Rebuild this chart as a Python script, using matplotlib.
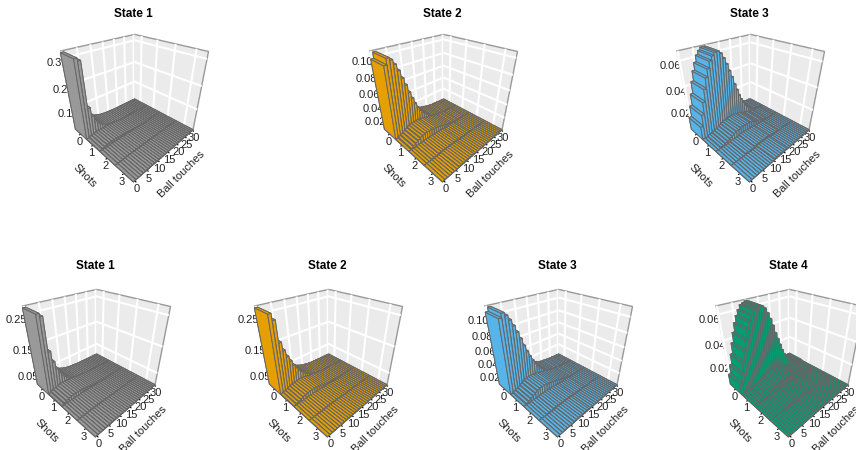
import numpy as np
import matplotlib
matplotlib.use("Agg")
import matplotlib.pyplot as plt

plt.rcParams['font.family'] = ['Liberation Sans', 'DejaVu Sans']
plt.rcParams['grid.color'] = 'white'
plt.rcParams['grid.linewidth'] = 1.5

shots = [0, 1, 2, 3]
touches = list(range(31))
touch_ticks = [0, 5, 10, 15, 20, 25, 30]

a1_s0 = [.32,.31,.13,.09,.06,.045,.035,.028,.022,.018,.014,.011,.009,.007,.006,.005,.004,.003,.003,.002,.002,.001,.001,.001,.001,.001,0,0,0,0,0]
a1_s1 = [.002,.006,.009,.011,.012,.013,.013,.012,.012,.011,.01,.009,.008,.007,.006,.005,.005,.004,.003,.003,.002,.002,.001,.001,.001,.001,0,0,0,0,0]
a1_s2 = [0,.001,.001,.002,.002,.002,.002,.002,.002,.002,.002,.002,.002,.001,.001,.001,.001,.001,.001,0,0,0,0,0,0,0,0,0,0,0,0]
a1_s3 = [0,0,0,0,.001,.001,.001,.001,.001,.001,.001,.001,0,0,0,0,0,0,0,0,0,0,0,0,0,0,0,0,0,0,0]

a2_s0 = [.098,.105,.102,.096,.088,.078,.068,.057,.047,.038,.03,.024,.019,.015,.012,.009,.007,.006,.005,.004,.003,.002,.002,.001,.001,.001,.001,0,0,0,0]
a2_s1 = [0,.002,.004,.006,.008,.01,.011,.012,.012,.012,.011,.011,.01,.009,.008,.007,.006,.005,.004,.003,.003,.002,.002,.001,.001,.001,.001,0,0,0,0]
a2_s2 = [0,0,0,.001,.001,.001,.002,.002,.002,.002,.002,.002,.002,.002,.002,.001,.001,.001,.001,.001,.001,0,0,0,0,0,0,0,0,0,0]
a2_s3 = [0,0,0,0,0,0,0,.001,.001,.001,.001,.001,.001,.001,0,0,0,0,0,0,0,0,0,0,0,0,0,0,0,0,0]

a3_s0 = [.012,.022,.032,.042,.05,.056,.061,.064,.066,.066,.064,.06,.055,.049,.043,.036,.03,.024,.019,.015,.011,.008,.006,.004,.003,.002,.002,.001,.001,.001,0]
a3_s1 = [0,0,.001,.001,.002,.003,.004,.005,.006,.007,.007,.008,.008,.008,.008,.007,.007,.006,.005,.004,.004,.003,.002,.002,.001,.001,.001,.001,0,0,0]
a3_s2 = [0,0,0,0,0,0,.001,.001,.001,.001,.002,.002,.002,.002,.002,.002,.002,.001,.001,.001,.001,.001,0,0,0,0,0,0,0,0,0]
a3_s3 = [0,0,0,0,0,0,0,0,0,0,0,.001,.001,.001,.001,.001,.001,0,0,0,0,0,0,0,0,0,0,0,0,0,0]

b1_s0 = [.27,.26,.15,.11,.08,.06,.045,.035,.028,.022,.018,.014,.011,.009,.007,.006,.005,.004,.003,.003,.002,.002,.001,.001,.001,.001,0,0,0,0,0]
b1_s1 = [.003,.008,.012,.015,.017,.018,.018,.017,.016,.015,.013,.012,.01,.009,.008,.007,.006,.005,.004,.003,.003,.002,.002,.001,.001,.001,0,0,0,0,0]
b1_s2 = [0,.001,.001,.002,.002,.003,.003,.003,.003,.003,.002,.002,.002,.002,.001,.001,.001,.001,.001,0,0,0,0,0,0,0,0,0,0,0,0]
b1_s3 = [0,0,0,0,.001,.001,.001,.001,.001,.001,.001,.001,0,0,0,0,0,0,0,0,0,0,0,0,0,0,0,0,0,0,0]

b2_s0 = [.27,.25,.18,.15,.125,.105,.085,.07,.055,.045,.035,.028,.022,.018,.014,.011,.009,.007,.005,.004,.003,.003,.002,.002,.001,.001,.001,0,0,0,0]
b2_s1 = [.002,.005,.008,.012,.015,.017,.019,.02,.02,.019,.018,.016,.014,.012,.011,.009,.008,.006,.005,.004,.003,.003,.002,.002,.001,.001,.001,0,0,0,0]
b2_s2 = [0,0,.001,.001,.002,.002,.003,.003,.003,.003,.003,.003,.003,.002,.002,.002,.001,.001,.001,.001,.001,0,0,0,0,0,0,0,0,0,0]
b2_s3 = [0,0,0,0,0,0,.001,.001,.001,.001,.001,.001,.001,.001,0,0,0,0,0,0,0,0,0,0,0,0,0,0,0,0,0]

b3_s0 = [.105,.11,.106,.1,.092,.083,.073,.062,.052,.043,.035,.028,.022,.017,.014,.011,.008,.007,.005,.004,.003,.003,.002,.002,.001,.001,.001,0,0,0,0]
b3_s1 = [0,.002,.004,.006,.008,.01,.012,.013,.013,.013,.012,.012,.011,.01,.009,.008,.007,.006,.005,.004,.003,.002,.002,.001,.001,.001,.001,0,0,0,0]
b3_s2 = [0,0,0,.001,.001,.001,.002,.002,.002,.002,.002,.002,.002,.002,.002,.001,.001,.001,.001,.001,.001,0,0,0,0,0,0,0,0,0,0]
b3_s3 = [0,0,0,0,0,0,0,.001,.001,.001,.001,.001,.001,.001,0,0,0,0,0,0,0,0,0,0,0,0,0,0,0,0,0]

b4_s0 = [.01,.018,.027,.036,.044,.051,.056,.06,.063,.064,.065,.064,.062,.058,.053,.047,.04,.034,.028,.022,.017,.013,.01,.007,.005,.004,.003,.002,.001,.001,.001]
b4_s1 = [0,0,.001,.001,.002,.002,.003,.004,.005,.006,.007,.007,.008,.008,.008,.008,.007,.007,.006,.005,.004,.004,.003,.002,.002,.001,.001,.001,0,0,0]
b4_s2 = [0,0,0,0,0,0,0,.001,.001,.001,.001,.002,.002,.002,.002,.002,.002,.001,.001,.001,.001,.001,0,0,0,0,0,0,0,0,0]
b4_s3 = [0,0,0,0,0,0,0,0,0,0,0,0,.001,.001,.001,.001,.001,0,0,0,0,0,0,0,0,0,0,0,0,0,0]

# title, rows, color, z ticks, z max, centre px of box, row offset px
panels = [
    ("State 1", [a1_s0, a1_s1, a1_s2, a1_s3], "#999999", [.1, .2, .3], .325, 132, 0),
    ("State 2", [a2_s0, a2_s1, a2_s2, a2_s3], "#E69F00", [.02, .04, .06, .08, .10], .107, 441, 0),
    ("State 3", [a3_s0, a3_s1, a3_s2, a3_s3], "#56B4E9", [.02, .04, .06], .067, 748, 0),
    ("State 1", [b1_s0, b1_s1, b1_s2, b1_s3], "#999999", [.05, .15, .25], .275, 94, 255),
    ("State 2", [b2_s0, b2_s1, b2_s2, b2_s3], "#E69F00", [.05, .15, .25], .275, 326, 255),
    ("State 3", [b3_s0, b3_s1, b3_s2, b3_s3], "#56B4E9", [.02, .04, .06, .08, .10], .112, 556, 255),
    ("State 4", [b4_s0, b4_s1, b4_s2, b4_s3], "#009E73", [.02, .04, .06], .066, 787, 255),
]

W, H = 856, 450
fig = plt.figure(figsize=(W / 100, H / 100), dpi=100)
elev, azim = 30, -44.5
size = 154
cy = 97
clear = (0, 0, 0, 0)


def setup(ax, zmax):
    ax.set_proj_type('persp', focal_length=0.231)
    ax.view_init(elev=elev, azim=azim)
    ax.set_box_aspect((1, 1, 0.96), zoom=1.0)
    ax.set_xlim(-0.5, 3.5)
    ax.set_ylim(-0.5, 30.5)
    ax.set_zlim(0, zmax)
    ax.patch.set_alpha(0)


for title, rows, color, zticks, zmax, cx, top in panels:
    rect = [(cx - size / 2) / W, 1 - (cy + top + size / 2) / H, size / W, size / H]

    # z labels sit under the walls, so the walls cut them off
    under = fig.add_axes(rect, projection='3d', zorder=1)
    setup(under, zmax)
    under.set_xticks([])
    under.set_yticks([])
    under.set_zticks(zticks, [f"{z:.2f}" if zmax < .3 else f"{z:.1f}" for z in zticks], fontsize=8, color='#222222')
    under.tick_params(axis='z', pad=-5, color=clear)
    under.zaxis.set_ticks_position('lower')
    under.grid(False)
    for axis in (under.xaxis, under.yaxis, under.zaxis):
        axis.pane.set_visible(False)
        axis.line.set_color(clear)

    ax = fig.add_axes(rect, projection='3d', zorder=2)
    ax.computed_zorder = False
    setup(ax, zmax)
    heights = np.array([(r + [0] * 31)[:31] for r in rows], dtype=float)
    # back to front, so taller bars hide what is behind them
    for s in shots:
        for t in touches[::-1]:
            ax.bar3d(s - .5, t - .5, 0, 1, 1, heights[s, t], color=color, edgecolor='#666666',
                     linewidth=0.7, shade=False, zorder=10 + s * 40 - t, clip_on=False)
    ax.set_xticks(shots)
    ax.set_yticks(touch_ticks)
    ax.set_zticks(zticks, [""] * len(zticks))
    ax.tick_params(axis='both', labelsize=8, pad=-6.5, labelcolor='#222222')
    ax.tick_params(axis='z', color=clear)
    ax.xaxis.set_rotate_label(False)
    ax.yaxis.set_rotate_label(False)
    ax.set_xlabel("Shots", rotation=-45, fontsize=8, labelpad=-9, color='#222222')
    ax.set_ylabel("Ball touches", rotation=45, fontsize=8, labelpad=-10, color='#222222')
    for axis in (ax.xaxis, ax.yaxis):
        axis.pane.set_facecolor('#EBEBEB')
        axis.pane.set_alpha(1)
        axis.pane.set_edgecolor('#999999')
    ax.zaxis.pane.set_visible(False)
    for axis in (ax.xaxis, ax.yaxis, ax.zaxis):
        axis.line.set_color(clear)
    title_y = 14 if top == 0 else 266
    fig.text((cx + 1) / W, 1 - title_y / H, title, ha='center', va='center', fontsize=8.5, fontweight='bold')

fig.savefig("out.png", dpi=100)
